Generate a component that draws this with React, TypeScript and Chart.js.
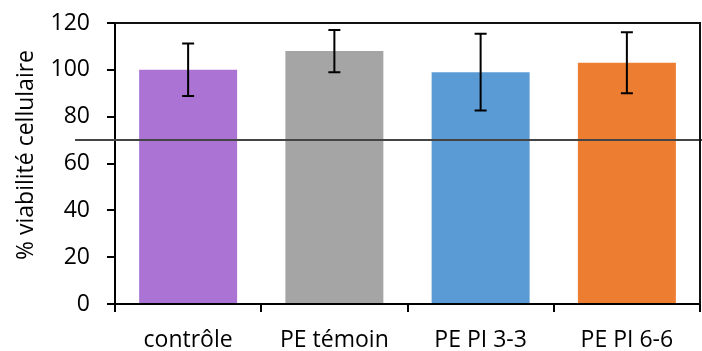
import React, { useEffect, useRef } from "react";
import { Chart, registerables } from "chart.js";

Chart.register(...registerables);

const categories = ["contrôle", "PE témoin", "PE PI 3-3", "PE PI 6-6"];
const values = [100, 108, 99, 103];
const errors = [11.2, 9, 16.4, 13];
const barColors = ["#AA73D4", "#A5A5A5", "#5B9BD5", "#ED7D31"];
const threshold = 70;
const yTitle = "% viabilité cellulaire";
const yMin = 0;
const yMax = 120;
const yStep = 20;

const FONT = "'Open Sans', sans-serif";
const FONT_SIZE = 23;

const extrasPlugin = {
  id: "extras",
  afterDatasetsDraw(chart: any) {
    const ctx = chart.ctx;
    const area = chart.chartArea;
    const y = chart.scales.y;
    const meta = chart.getDatasetMeta(0);
    ctx.save();
    // error bars
    ctx.strokeStyle = "#000";
    ctx.lineWidth = 2;
    meta.data.forEach((bar: any, i: number) => {
      const x = bar.x;
      const yt = y.getPixelForValue(values[i] + errors[i]);
      const yb = y.getPixelForValue(values[i] - errors[i]);
      ctx.beginPath();
      ctx.moveTo(x, yt);
      ctx.lineTo(x, yb);
      ctx.moveTo(x - 6, yt);
      ctx.lineTo(x + 6, yt);
      ctx.moveTo(x - 6, yb);
      ctx.lineTo(x + 6, yb);
      ctx.stroke();
    });
    // threshold line
    const ty = y.getPixelForValue(threshold);
    ctx.strokeStyle = "#444";
    ctx.lineWidth = 2;
    ctx.beginPath();
    ctx.moveTo(75, ty);
    ctx.lineTo(chart.width, ty);
    ctx.stroke();
    // top and right frame
    ctx.strokeStyle = "#111";
    ctx.lineWidth = 2;
    ctx.beginPath();
    ctx.moveTo(area.left, area.top);
    ctx.lineTo(area.right, area.top);
    ctx.lineTo(area.right, area.bottom);
    ctx.stroke();
    // y title
    ctx.fillStyle = "#000";
    ctx.font = `${FONT_SIZE}px ${FONT}`;
    ctx.textAlign = "center";
    ctx.textBaseline = "middle";
    ctx.translate(26, 155);
    ctx.rotate(-Math.PI / 2);
    ctx.fillText(yTitle, 0, 0);
    ctx.restore();
  },
};

export default function App() {
  const ref = useRef<HTMLCanvasElement>(null);
  useEffect(() => {
    if (!ref.current) return;
    const chart = new Chart(ref.current, {
      type: "bar",
      data: {
        labels: categories,
        datasets: [
          {
            data: values,
            backgroundColor: barColors,
            borderWidth: 0,
            barPercentage: 0.67,
            categoryPercentage: 1,
          },
        ],
      },
      options: {
        animation: false,
        responsive: false,
        layout: { padding: { left: 0, right: 2, top: 23, bottom: 0 } },
        plugins: { legend: { display: false }, tooltip: { enabled: false } },
        scales: {
          x: {
            border: { display: true, color: "#000", width: 2 },
            grid: {
              offset: true,
              drawOnChartArea: false,
              drawTicks: true,
              tickLength: 8,
              tickColor: "#000",
              lineWidth: 2,
            },
            ticks: { color: "#000", font: { family: FONT, size: FONT_SIZE }, padding: 15, maxRotation: 0 },
            afterFit: (s: any) => {
              s.height = 47;
              s.paddingLeft = 0;
              s.paddingRight = 0;
            },
          },
          y: {
            min: yMin,
            max: yMax,
            border: { display: true, color: "#000", width: 2 },
            grid: {
              drawOnChartArea: false,
              drawTicks: true,
              tickLength: 8,
              tickColor: "#000",
              lineWidth: 2,
            },
            ticks: { stepSize: yStep, color: "#000", font: { family: FONT, size: FONT_SIZE }, padding: 17 },
            afterFit: (s: any) => {
              s.width = 115;
              s.paddingTop = 0;
              s.paddingBottom = 0;
            },
          },
        },
      },
      plugins: [extrasPlugin],
    });
    return () => chart.destroy();
  }, []);
  return (
    <div style={{ position: "absolute", left: 0, top: 0, width: 702, height: 351, background: "#fff" }}>
      <canvas ref={ref} width={702} height={351} />
    </div>
  );
}
